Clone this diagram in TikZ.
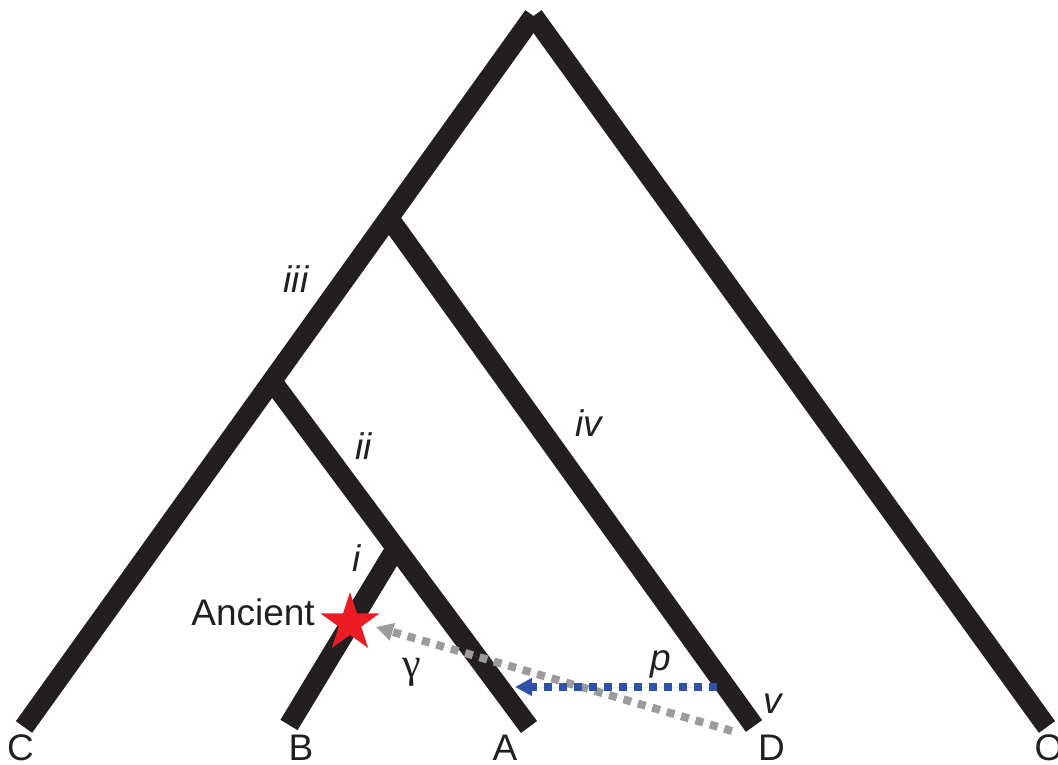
\documentclass[tikz,border=0pt]{standalone}
\usepackage{fontspec}
\setmainfont{Liberation Sans}
\newfontfamily\greekserif{Liberation Serif}
\usetikzlibrary{arrows.meta,shapes.geometric}
\definecolor{treeblack}{HTML}{231F20}
\definecolor{flowgray}{HTML}{9B9B9B}
\definecolor{flowblue}{HTML}{2F52A6}
\definecolor{starred}{HTML}{EC1C24}
\begin{document}
\begin{tikzpicture}[x=1pt,y=-1pt,
  branch/.style={line width=20pt, draw=treeblack, line cap=butt},
  geneflow/.style={line width=8pt, dash pattern=on 8pt off 7pt, -{Triangle[length=17pt,width=17pt]}},
  tiplabel/.style={font=\fontsize{37}{40}\selectfont, inner sep=0pt, anchor=base, text=treeblack},
  brlabel/.style={font=\fontsize{37}{40}\selectfont\itshape, inner sep=0pt, anchor=base, text=treeblack},
]
\clip (0,0) rectangle (1058,765);
% tree points
\coordinate (top) at (533.5,16);
\coordinate (C) at (24,727);
\coordinate (O) at (1047,727);
\coordinate (n4) at (389,218);
\coordinate (D) at (754,726);
\coordinate (n3) at (272,381);
\coordinate (A) at (529,727);
\coordinate (n1) at (396,548);
\coordinate (B) at (289,725);
% branches
\draw[branch] (C) -- (top);
\draw[branch] (top) -- (O);
\draw[branch] (n4) -- (D);
\draw[branch] (n3) -- (A);
\draw[branch] (n1) -- (B);
% gene flow arrows
\coordinate (grayStart) at (732,731);
\coordinate (grayEnd) at (376,627);
\coordinate (blueStart) at (717,687);
\coordinate (blueEnd) at (515,687);
\draw[geneflow, draw=flowgray, fill=flowgray] (grayStart) -- (grayEnd);
\draw[geneflow, draw=flowblue, fill=flowblue] (blueStart) -- (blueEnd);
% ancient sample
\node[star, star points=5, star point ratio=2.618, minimum size=62pt, inner sep=0pt, fill=starred, draw=none] (anc) at (350,623) {};
\node[tiplabel, anchor=base east] (ancLabel) at (315,625) {Ancient};
% tip labels
\node[tiplabel, text depth=0pt] (labC) at (20.5,760) {C};
\node[tiplabel, text depth=0pt] (labB) at (301,760) {B};
\node[tiplabel, text depth=0pt] (labA) at (505,760) {A};
\node[tiplabel, text depth=0pt] (labD) at (771.5,760) {D};
\node[tiplabel, text depth=0pt] (labO) at (1049,760) {O};
% branch labels
\node[brlabel] (labiii) at (296,292) {iii};
\node[brlabel] (labii) at (364,459) {ii};
\node[brlabel] (labiv) at (589,436) {iv};
\node[brlabel] (labi) at (357,571) {i};
\node[brlabel] (labv) at (773,713) {v};
\node[brlabel] (labp) at (661,670) {p};
\node[tiplabel, font=\fontsize{42}{44}\selectfont\greekserif] (labgamma) at (412,677) {γ};
\end{tikzpicture}
\end{document}
